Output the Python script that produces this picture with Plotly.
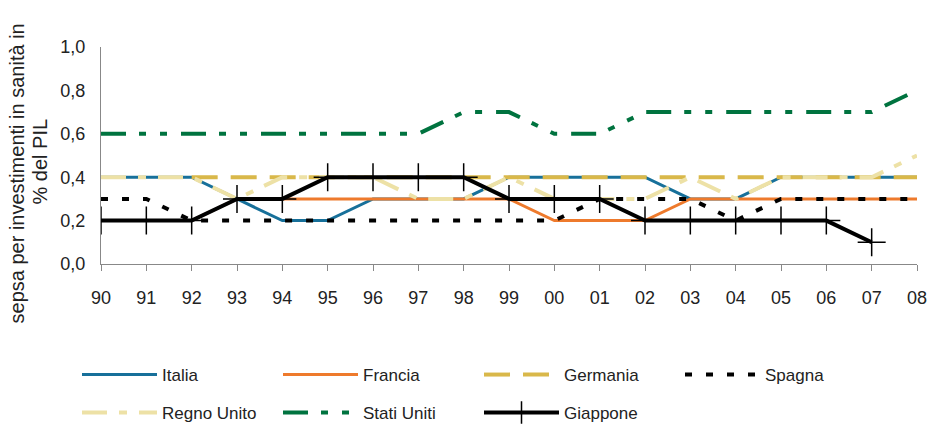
import plotly.graph_objects as go

years = ["90", "91", "92", "93", "94", "95", "96", "97", "98", "99",
         "00", "01", "02", "03", "04", "05", "06", "07", "08"]

italia = [0.4, 0.4, 0.4, 0.3, 0.2, 0.2, 0.3, 0.3, 0.3, 0.4,
          0.4, 0.4, 0.4, 0.3, 0.3, 0.4, 0.4, 0.4, 0.4]
francia = [0.2, 0.2, 0.2, 0.3, 0.3, 0.3, 0.3, 0.3, 0.3, 0.3,
           0.2, 0.2, 0.2, 0.3, 0.3, 0.3, 0.3, 0.3, 0.3]
germania = [None, None, 0.4, 0.4, 0.4, 0.4, 0.4, 0.4, 0.4, 0.4,
            0.4, 0.4, 0.4, 0.4, 0.4, 0.4, 0.4, 0.4, 0.4]
spagna = [0.3, 0.3, 0.2, 0.2, 0.2, 0.2, 0.2, 0.2, 0.2, 0.2,
          0.2, 0.3, 0.3, 0.3, 0.2, 0.3, 0.3, 0.3, 0.3]
regno_unito = [0.4, 0.4, 0.4, 0.3, 0.4, 0.4, 0.4, 0.3, 0.3, 0.4,
               0.3, 0.3, 0.3, 0.4, 0.3, 0.4, 0.4, 0.4, 0.5]
stati_uniti = [0.6, 0.6, 0.6, 0.6, 0.6, 0.6, 0.6, 0.6, 0.7, 0.7,
               0.6, 0.6, 0.7, 0.7, 0.7, 0.7, 0.7, 0.7, 0.8]
giappone = [0.2, 0.2, 0.2, 0.3, 0.3, 0.4, 0.4, 0.4, 0.4, 0.3,
            0.3, 0.3, 0.2, 0.2, 0.2, 0.2, 0.2, 0.1, None]

FONT = "Liberation Sans, Arial, sans-serif"

fig = go.Figure()

series = [
    ("Italia", italia, "#17709A", "solid", 3, "legend"),
    ("Francia", francia, "#EE7A2C", "solid", 3, "legend"),
    ("Germania", germania, "#D9B84A", "26px,13px", 4, "legend"),
    ("Spagna", spagna, "#000000", "7px,14px", 4, "legend"),
    ("Regno Unito", regno_unito, "#EDE1A6", "25px,12px,8px,12px", 4, "legend2"),
    ("Stati Uniti", stati_uniti, "#00733F", "25px,13px,7px,14px,7px,14px", 4, "legend2"),
]
for name, vals, color, dash, w, leg in series:
    fig.add_trace(go.Scatter(
        x=years, y=vals, name=name, mode="lines",
        line=dict(color=color, dash=dash, width=w),
        legend=leg,
    ))

fig.add_trace(go.Scatter(
    x=years, y=giappone, name="Giappone", mode="lines+markers",
    line=dict(color="#000000", width=4),
    marker=dict(symbol="cross-thin", size=20, line=dict(color="#000000", width=1.5)),
    legend="legend2",
))

fig.update_layout(
    width=930, height=426,
    margin=dict(l=101, r=13, t=47, b=162),
    paper_bgcolor="white", plot_bgcolor="white",
    font=dict(family=FONT, size=18, color="#222222"),
    separators=",.",
    showlegend=True,
    legend=dict(
        orientation="h", xref="container", yref="container",
        x=0.0828, y=0.1197, xanchor="left", yanchor="middle",
        entrywidth=111, itemwidth=75, font=dict(size=17),
    ),
    legend2=dict(
        orientation="h", xref="container", yref="container",
        x=0.0828, y=0.0305, xanchor="left", yanchor="middle",
        entrywidth=111, itemwidth=75, font=dict(size=17),
    ),
)

fig.update_xaxes(
    type="category", range=[0, len(years) - 1], automargin=False,
    showline=True, linecolor="#888888", linewidth=1,
    ticks="outside", ticklen=6, tickcolor="#888888",
    showgrid=False, ticklabelstandoff=11,
)
fig.update_yaxes(
    range=[0, 1], dtick=0.2, tickformat=".1f", automargin=False,
    showline=True, linecolor="#888888", linewidth=1,
    showgrid=False, zeroline=False, ticks="", ticklabelstandoff=11,
)

# y axis title, two lines placed one by one (tight line spacing)
fig.add_annotation(
    text="sepsa per investimenti in sanità in",
    xref="paper", yref="paper", x=-0.103, y=0.417,
    xanchor="center", yanchor="middle",
    textangle=-90, showarrow=False, font=dict(size=20, color="#222222"),
)
fig.add_annotation(
    text="% del PIL",
    xref="paper", yref="paper", x=-0.0748, y=0.472,
    xanchor="center", yanchor="middle",
    textangle=-90, showarrow=False, font=dict(size=20, color="#222222"),
)

# drop the default 8px body margin so the figure fills the window
fig.write_html(
    "out.html",
    config={"displayModeBar": False},
    post_script="document.body.style.margin='0';document.body.style.overflow='hidden';",
)
